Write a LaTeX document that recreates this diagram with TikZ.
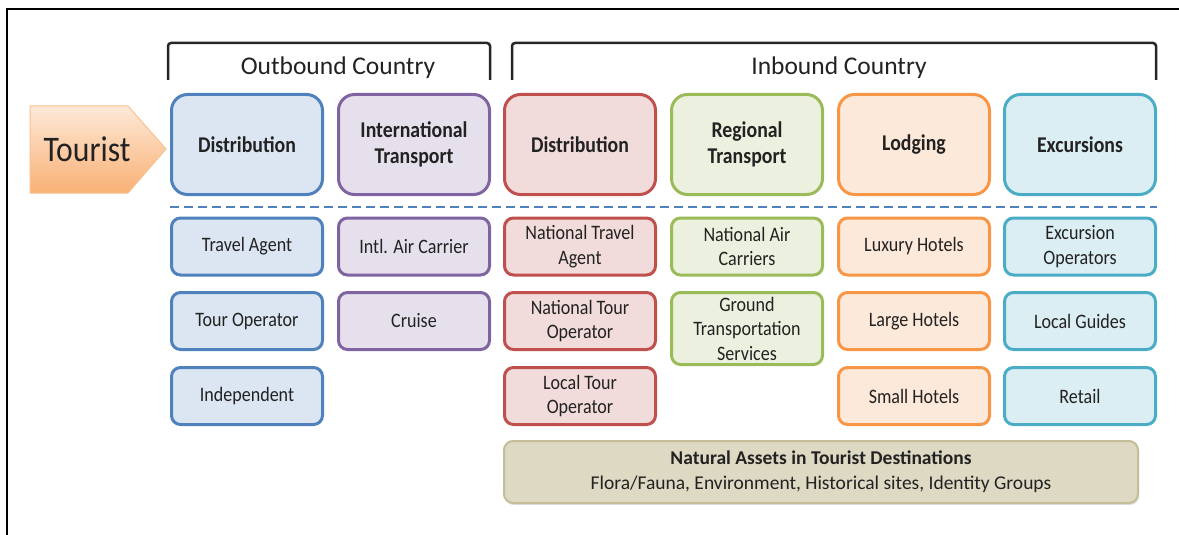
\documentclass[tikz,border=0pt]{standalone}
\usepackage{fontspec}
\setmainfont{Carlito}
\newfontfamily\tallfont{Carlito}[FakeStretch=0.88]
\usetikzlibrary{shadows}
\definecolor{txt}{HTML}{222222}
\definecolor{bluB}{HTML}{4F81BD}\definecolor{bluF}{HTML}{DCE6F2}
\definecolor{purB}{HTML}{8064A2}\definecolor{purF}{HTML}{E6E0EC}
\definecolor{redB}{HTML}{C0504D}\definecolor{redF}{HTML}{F2DCDB}
\definecolor{grnB}{HTML}{9BBB59}\definecolor{grnF}{HTML}{EBF1DE}
\definecolor{orgB}{HTML}{F79646}\definecolor{orgF}{HTML}{FDE9D9}
\definecolor{cyaB}{HTML}{4BACC6}\definecolor{cyaF}{HTML}{DBEEF4}
\definecolor{natB}{HTML}{C4BD97}\definecolor{natF}{HTML}{DDD9C3}
\tikzset{
  bigbox/.style={draw=#1B, fill=#1F, line width=3pt, rounded corners=16pt,
    minimum width=151pt, minimum height=100pt, align=center, text=txt,
    font=\tallfont\fontsize{22.5}{26}\selectfont\bfseries, inner sep=0pt},
  smallbox/.style={draw=#1B, fill=#1F, line width=3pt, rounded corners=9pt,
    minimum width=151pt, minimum height=57pt, align=center, text=txt,
    font=\tallfont\fontsize{20.5}{24.5}\selectfont, inner sep=0pt},
  header/.style={font=\fontsize{25.5}{28}\selectfont, text=txt},
  bracket/.style={line width=2.5pt, draw=black!85, rounded corners=3pt},
}
\begin{document}
\begin{tikzpicture}[x=1pt,y=-1pt]
\useasboundingbox (0,0) rectangle (1179,535);
\fill[white] (0,0) rectangle (1179,535);
% frame
\draw[line width=2.2pt] (7,535) -- (7,9) -- (1179,9);
% tourist arrow
\shade[top color=orgF!60!orgB!40, bottom color=orgB!75, draw=orgB!60, line width=1pt]
  (30,106) -- (128,106) -- (166,149) -- (128,193) -- (30,193) -- cycle;
\node[font=\tallfont\fontsize{36}{38}\selectfont, text=txt] (tourist) at (87,149) {Tourist};
% brackets
\coordinate (ob1) at (168,80); \coordinate (ob2) at (490,80);
\draw[bracket] (ob1) -- (168,43) -- (490,43) -- (ob2);
\node[header] (outbound) at (338,68) {Outbound Country};
\coordinate (ib1) at (512,80); \coordinate (ib2) at (1156,80);
\draw[bracket] (ib1) -- (512,43) -- (1156,43) -- (ib2);
\node[header] (inbound) at (839,68) {Inbound Country};
% top boxes
\node[bigbox=blu] (d1) at (247,144.5) {Distribution};
\node[bigbox=pur] (it) at (414,144.5) {International\\Transport};
\node[bigbox=red] (d2) at (580,144.5) {Distribution};
\node[bigbox=grn] (rt) at (747,144.5) {Regional\\Transport};
\node[bigbox=org] (lo) at (914,144.5) {Lodging};
\node[bigbox=cya] (ex) at (1080,144.5) {Excursions};
% dashed separator
\coordinate (sepL) at (170,207); \coordinate (sepR) at (1157,207);
\draw[bluB, line width=2.5pt, dash pattern=on 9pt off 5pt] (sepL) -- (sepR);
% row 1
\node[smallbox=blu] (ta) at (247,246.5) {Travel Agent};
\node[smallbox=pur] (ia) at (414,246.5) {Intl. Air Carrier};
\node[smallbox=red] (nta) at (580,246.5) {National Travel\\Agent};
\node[smallbox=grn] (nac) at (747,246.5) {National Air\\Carriers};
\node[smallbox=org] (lh) at (914,246.5) {Luxury Hotels};
\node[smallbox=cya] (eo) at (1080,246.5) {Excursion\\Operators};
% row 2
\node[smallbox=blu] (to) at (247,321) {Tour Operator};
\node[smallbox=pur] (cr) at (414,321) {Cruise};
\node[smallbox=red] (nto) at (580,321) {National Tour\\Operator};
\node[smallbox=grn, minimum height=72pt] (gts) at (747,328.5) {Ground\\Transportation\\Services};
\node[smallbox=org] (lgh) at (914,321) {Large Hotels};
\node[smallbox=cya] (lg) at (1080,321) {Local Guides};
% row 3
\node[smallbox=blu] (ind) at (247,396) {Independent};
\node[smallbox=red] (lto) at (580,396) {Local Tour\\Operator};
\node[smallbox=org] (sh) at (914,396) {Small Hotels};
\node[smallbox=cya] (re) at (1080,396) {Retail};
% natural assets
\node[draw=natB, fill=natF, line width=2pt, rounded corners=9pt,
  minimum width=634pt, minimum height=62pt, align=center, text=txt, inner sep=0pt,
  font=\fontsize{19.5}{25}\selectfont, drop shadow={shadow xshift=1pt, shadow yshift=-2pt, opacity=0.25}]
  (nat) at (821,472) {\textbf{Natural Assets in Tourist Destinations}\\Flora/Fauna, Environment, Historical sites, Identity Groups};
\end{tikzpicture}
\end{document}
